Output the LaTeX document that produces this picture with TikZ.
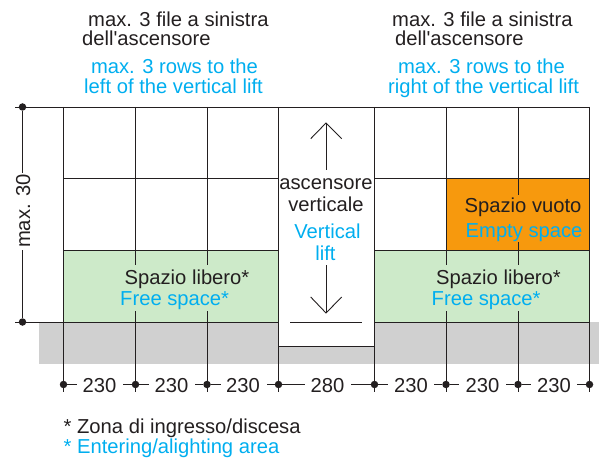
\documentclass[tikz,border=0pt]{standalone}
\usepackage{fontspec}
\setmainfont{Liberation Sans}
\newfontfamily\plainf{Liberation Sans}
\definecolor{inkc}{HTML}{231F20}
\definecolor{bluec}{HTML}{00AEEF}
\definecolor{greenc}{HTML}{CDEAC9}
\definecolor{orangec}{HTML}{F7990D}
\definecolor{grayc}{HTML}{D0D0D0}
\tikzset{
  lbl/.style={inner sep=0pt,anchor=base west,text=inkc,font=\fontsize{20.2}{20}\selectfont},
  lblc/.style={lbl,anchor=base},
  en/.style={text=bluec},
  ln/.style={draw=inkc,line width=0.9pt},
  dot/.style={circle,fill=inkc,draw=none,minimum size=7.5pt,inner sep=0pt}
}
\begin{document}
\begin{tikzpicture}[x=1pt,y=-1pt]
\useasboundingbox (0,0) rectangle (599,462);
% fills
\fill[grayc] (39,322) rectangle (599,364);
\fill[white] (278.5,322) rectangle (374.5,346);
\fill[greenc] (63.5,250.5) rectangle (278.5,322);
\fill[greenc] (374.5,250.5) rectangle (589.5,322);
\fill[orangec] (446,178.5) rectangle (589.5,250.5);
% horizontals
\draw[ln] (15,107) -- (589.5,107);
\draw[ln] (63.5,178.5) -- (278.5,178.5);
\draw[ln] (374.5,178.5) -- (589.5,178.5);
\draw[ln] (63.5,250.5) -- (278.5,250.5);
\draw[ln] (374.5,250.5) -- (589.5,250.5);
\draw[ln] (15,322) -- (278.5,322);
\draw[ln] (374.5,322) -- (589.5,322);
\draw[ln] (290,322) -- (362,322);
\draw[ln] (278.5,346) -- (374.5,346);
% verticals
\foreach \x in {63.5,278.5,374.5,589.5} \draw[ln] (\x,107) -- (\x,392);
\foreach \x in {135.5,207,446} {
  \draw[ln] (\x,107) -- (\x,265);
  \draw[ln] (\x,311) -- (\x,392);
}
\draw[ln] (518,107) -- (518,195);
\draw[ln] (518,242) -- (518,265);
\draw[ln] (518,311) -- (518,392);
% left dimension
\coordinate (dimtop) at (22.5,107);
\coordinate (dimbot) at (22.5,322);
\node[dot] (dt) at (dimtop) {};
\node[dot] (db) at (dimbot) {};
\draw[ln] (dt) -- (22.5,173);
\draw[ln] (22.5,250) -- (db);
\node[lbl,anchor=base,rotate=90] (maxd) at (30,211) {max. 30};
% bottom dimension
\foreach \n/\x in {a/63.5,b/135.5,c/207,d/278.5,e/374.5,f/446,g/518,h/589.5}
  \node[dot] (\n) at (\x,384.5) {};
\draw[ln] (a) -- (77,384.5);
\draw[ln] (123,384.5) -- (b) -- (149,384.5);
\draw[ln] (195,384.5) -- (c) -- (221,384.5);
\draw[ln] (267,384.5) -- (d) -- (305,384.5);
\draw[ln] (351,384.5) -- (e) -- (388,384.5);
\draw[ln] (434,384.5) -- (f) -- (459,384.5);
\draw[ln] (506,384.5) -- (g) -- (531,384.5);
\draw[ln] (577,384.5) -- (h);
\node[lblc] (d1) at (99.5,392) {230};
\node[lblc] (d2) at (171.5,392) {230};
\node[lblc] (d3) at (243,392) {230};
\node[lblc] (d4) at (327.5,392) {280};
\node[lblc] (d5) at (411,392) {230};
\node[lblc] (d6) at (482.5,392) {230};
\node[lblc] (d7) at (554,392) {230};
% lift arrows
\draw[ln] (326,170) -- (326,123);
\draw[ln] (310.7,138.7) -- (326,123) -- (341.7,138.7);
\draw[ln] (326,265) -- (326,313);
\draw[ln] (310.7,297) -- (326,313) -- (341.7,297);
% header
\node[lbl] (h1) at (88,26.5) {max. 3 file a sinistra};
\node[lbl] (h2) at (82,45.5) {\plainf dell'ascensore};
\node[lblc,en] (h3) at (174.5,73.5) {max. 3 rows to the};
\node[lblc,en] (h4) at (173.5,93.5) {left of the vertical lift};
\node[lbl] (h5) at (392,26.5) {max. 3 file a sinistra};
\node[lbl] (h6) at (395,45.5) {\plainf dell'ascensore};
\node[lblc,en] (h7) at (481.5,73.5) {max. 3 rows to the};
\node[lblc,en] (h8) at (483.5,93.5) {right of the vertical lift};
% lift text
\node[lblc] (l1) at (326,190) {ascensore};
\node[lblc] (l2) at (326,212) {verticale};
\node[lblc,en] (l3) at (327.5,239) {Vertical};
\node[lblc,en] (l4) at (325.5,260) {lift};
% areas
\node[lbl] (s1) at (124.5,284) {Spazio libero*};
\node[lbl,en] (s2) at (120,305) {Free space*};
\node[lbl] (s3) at (436,284) {Spazio libero*};
\node[lbl,en] (s4) at (431.5,305) {Free space*};
\node[lbl] (s5) at (464.5,213) {Spazio vuoto};
\node[lbl,en] (s6) at (465.5,237) {Empty space};
% footnote
\node[lbl] (f1) at (63.5,433) {* Zona di ingresso/discesa};
\node[lbl,en] (f2) at (63.5,453) {* Entering/alighting area};
\end{tikzpicture}
\end{document}
